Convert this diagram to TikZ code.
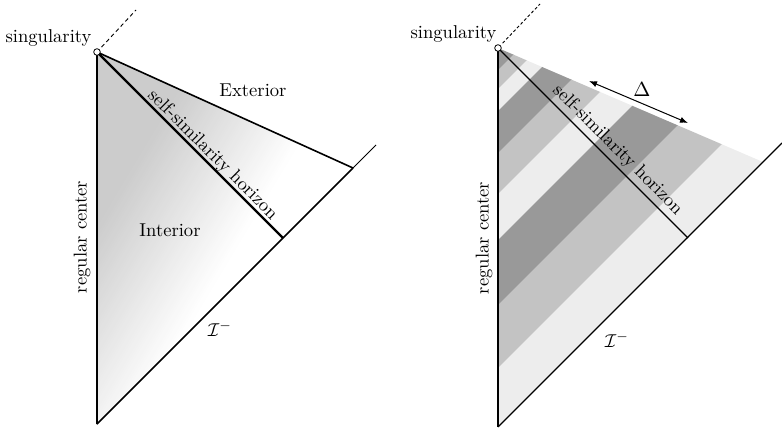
\RequirePackage{fix-cm}
\documentclass[tikz,border=0pt]{standalone}
\usetikzlibrary{arrows.meta}
\definecolor{shadeDark}{gray}{0.8}
\definecolor{stripeDark}{gray}{0.6}
\definecolor{stripeMid}{gray}{0.765}
\definecolor{stripeLight}{gray}{0.93}
\begin{document}
\begin{tikzpicture}[x=1pt,y=-1pt,
  lbl/.style={font=\normalsize, inner sep=0pt, scale=1.86},
  edgeL/.style={line width=1.6pt},
  horL/.style={line width=2.3pt},
  edgeR/.style={line width=1.2pt},
  sing/.style={circle, draw, fill=white, inner sep=0pt, minimum size=6.6pt, line width=0.8pt},
  futdashL/.style={dash pattern=on 4pt off 3pt, line width=0.9pt, shorten <=3pt},
  futdashR/.style={dash pattern=on 3pt off 2.2pt, line width=0.9pt, shorten <=3pt}]
\useasboundingbox (0,0) rectangle (782,428);

% ---------- left diagram ----------
\coordinate (S) at (97,52);
\coordinate (B) at (97,424);
\coordinate (C) at (353,168);
\coordinate (H) at (283,238);
\coordinate (E) at (376,145);
\coordinate (D) at (136,10);

\begin{scope}
  \clip (S) -- (C) -- (B) -- cycle;
  \begin{scope}[rotate=-31]
    \fill[shadeDark] (-200,-800) rectangle (200.5,800);
    \foreach \i in {0,...,64} {
      \pgfmathsetmacro\pct{20*(1-(\i+0.5)/65)}
      \fill[black!\pct] (200+2*\i,-800) rectangle (202.6+2*\i,800);
    }
  \end{scope}
\end{scope}

\draw[edgeL] (B) -- (S) -- (C);
\draw[edgeL] (B) -- (C);
\draw[line width=1pt] (C) -- (E);
\draw[horL] (S) -- (H);
\node[sing] (sL) at (S) {};
\draw[futdashL] (sL) -- (D);

\node[lbl] (singL) at (48.5,38) {singularity};
\node[lbl] (ext) at (253,90) {Exterior};
\node[lbl] (int) at (170,230) {Interior};
\node[lbl, rotate=90] (rcL) at (82,237) {regular center};
\node[lbl, rotate=-45] (hzL) at (212.5,155) {self-similarity horizon};
\node[lbl] (scriL) at (220,329) {$\mathcal{I}^-$};

% ---------- right diagram ----------
\coordinate (S2) at (498,48);
\coordinate (B2) at (498,427);
\coordinate (C2) at (763,162);
\coordinate (H2) at (688,238);
\coordinate (E2) at (782,143);
\coordinate (D2) at (540,4);

\begin{scope}
  \clip (S2) -- (C2) -- (B2) -- cycle;
  \foreach \a/\b/\c in {530/568/stripeDark, 568/587/stripeMid, 587/609/stripeLight,
                        609/651/stripeDark, 651/692/stripeMid, 692/738/stripeLight,
                        738/803/stripeDark, 803/866/stripeMid, 866/960/stripeLight} {
    \fill[\c] (420,\a-420) -- (880,\a-880) -- (880,\b+0.6-880) -- (420,\b+0.6-420) -- cycle;
  }
\end{scope}

\draw[edgeR] (B2) -- (S2);
\draw[edgeR] (B2) -- (E2);
\draw[edgeR] (S2) -- (H2);
\node[sing] (sR) at (S2) {};
\draw[futdashR] (sR) -- (D2);

\coordinate (A1) at (589,81);
\coordinate (A2) at (688,123);
\draw[{Latex[length=8pt,width=6pt]}-{Latex[length=8pt,width=6pt]}, line width=1pt] (A1) -- (A2);
\node[lbl, scale=1.1] (delta) at (642,89.5) {$\Delta$};

\node[lbl] (singR) at (453.5,34) {singularity};
\node[lbl, rotate=90] (rcR) at (484,238) {regular center};
\node[lbl, rotate=-45] (hzR) at (617.5,150) {self-similarity horizon};
\node[lbl] (scriR) at (617,340) {$\mathcal{I}^-$};
\end{tikzpicture}
\end{document}
